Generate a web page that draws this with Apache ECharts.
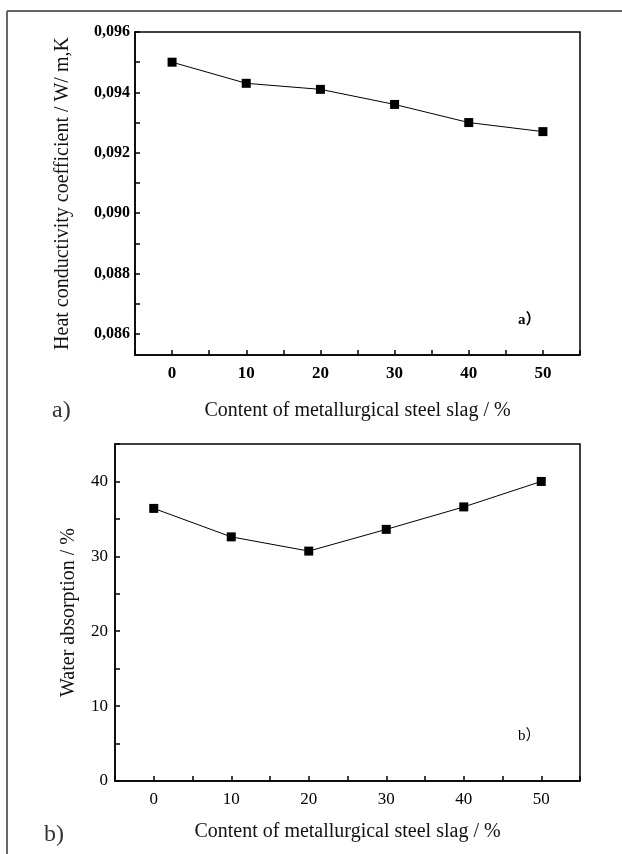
<!DOCTYPE html>
<html>
<head>
<meta charset="utf-8">
<script src="https://cdn.jsdelivr.net/npm/echarts@6/dist/echarts.min.js"></script>
<style>
  html, body { margin: 0; padding: 0; background: #fff; }
  #chart { width: 622px; height: 854px; }
</style>
</head>
<body>
<div id="chart"></div>
<script>
// slag content, %
const slagContent = [0, 10, 20, 30, 40, 50]
// a) heat conductivity coefficient, W/m.K
const heatConductivity = [0.0950, 0.0943, 0.0941, 0.0936, 0.0930, 0.0927]
// b) water absorption, %
const waterAbsorption = [36.4, 32.6, 30.7, 33.6, 36.6, 40.0]

const heatLabels = [0.086, 0.088, 0.090, 0.092, 0.094, 0.096]
const heatTicks = [0.086, 0.087, 0.088, 0.089, 0.090, 0.091, 0.092, 0.093, 0.094, 0.095, 0.096]
const slagLabels = [0, 10, 20, 30, 40, 50]
const waterLabels = [0, 10, 20, 30, 40]

const xTitle = 'Content of metallurgical steel slag / %'
const serif = 'Liberation Serif'

const chart = echarts.init(document.getElementById('chart'))

const xAxisBase = (gridIndex, bold, nameGap) => ({
  gridIndex,
  type: 'value',
  min: -5,
  max: 55,
  interval: 5,
  name: xTitle,
  nameLocation: 'middle',
  nameGap,
  nameTextStyle: { fontFamily: serif, fontSize: 20, color: '#111' },
  axisLine: { onZero: false, lineStyle: { color: '#000', width: 1.5 } },
  axisTick: { inside: true, length: 5, lineStyle: { color: '#000', width: 1.5 } },
  axisLabel: {
    margin: 10,
    fontFamily: serif,
    fontSize: 17,
    fontWeight: bold ? 'bold' : 'normal',
    color: '#000',
    formatter: v => slagLabels.includes(v) ? String(v) : ''
  },
  splitLine: { show: false }
})

chart.setOption({
  animation: false,
  grid: [
    { left: 135, right: 42, top: 32, height: 323, show: true, borderColor: '#000', borderWidth: 1.5 },
    { left: 115, right: 42, top: 444, height: 337, show: true, borderColor: '#000', borderWidth: 1.5 }
  ],
  xAxis: [
    xAxisBase(0, true, 46),
    xAxisBase(1, false, 41)
  ],
  yAxis: [{
    gridIndex: 0,
    type: 'value',
    min: 0.0853,
    max: 0.096,
    name: 'Heat conductivity coefficient / W/ m,K',
    nameLocation: 'middle',
    nameGap: 62,
    nameTextStyle: { fontFamily: serif, fontSize: 20, color: '#111' },
    axisLine: { show: true, onZero: false, lineStyle: { color: '#000', width: 1.5 } },
    axisTick: { show: true, inside: true, length: 5, customValues: heatTicks, lineStyle: { color: '#000', width: 1.5 } },
    axisLabel: {
      margin: 5,
      fontFamily: serif,
      fontSize: 16,
      fontWeight: 'bold',
      color: '#000',
      customValues: heatLabels,
      formatter: v => v.toFixed(3).replace('.', ',')
    },
    splitLine: { show: false }
  }, {
    gridIndex: 1,
    type: 'value',
    min: 0,
    max: 45,
    interval: 5,
    name: 'Water absorption / %',
    nameLocation: 'middle',
    nameGap: 36,
    nameTextStyle: { fontFamily: serif, fontSize: 20, color: '#111' },
    axisLine: { show: true, onZero: false, lineStyle: { color: '#000', width: 1.5 } },
    axisTick: { show: true, inside: true, length: 5, lineStyle: { color: '#000', width: 1.5 } },
    axisLabel: {
      margin: 7,
      fontFamily: serif,
      fontSize: 17,
      color: '#000',
      formatter: v => waterLabels.includes(v) ? String(v) : ''
    },
    splitLine: { show: false }
  }],
  series: [{
    type: 'line',
    xAxisIndex: 0,
    yAxisIndex: 0,
    data: slagContent.map((x, i) => [x, heatConductivity[i]]),
    symbol: 'rect',
    symbolSize: 9,
    itemStyle: { color: '#000' },
    lineStyle: { color: '#000', width: 1 }
  }, {
    type: 'line',
    xAxisIndex: 1,
    yAxisIndex: 1,
    data: slagContent.map((x, i) => [x, waterAbsorption[i]]),
    symbol: 'rect',
    symbolSize: 9,
    itemStyle: { color: '#000' },
    lineStyle: { color: '#000', width: 1 }
  }],
  graphic: [
    // outer frame (top and left only)
    { type: 'line', shape: { x1: 7, y1: 11, x2: 622, y2: 11 }, style: { stroke: '#666', lineWidth: 2 } },
    { type: 'line', shape: { x1: 7, y1: 11, x2: 7, y2: 854 }, style: { stroke: '#666', lineWidth: 2 } },
    // panel letters
    { type: 'text', left: 52, top: 399, style: { text: 'a)', font: '24px "Liberation Serif"', fill: '#333' } },
    { type: 'text', left: 44, top: 823, style: { text: 'b)', font: '24px "Liberation Serif"', fill: '#333' } },
    { type: 'text', left: 518, top: 313, style: { text: 'a）', font: 'bold 15px "Liberation Serif", "Noto Sans CJK SC"', fill: '#000' } },
    { type: 'text', left: 518, top: 729, style: { text: 'b）', font: '15px "Liberation Serif", "Noto Sans CJK SC"', fill: '#000' } }
  ]
})
</script>
</body>
</html>
